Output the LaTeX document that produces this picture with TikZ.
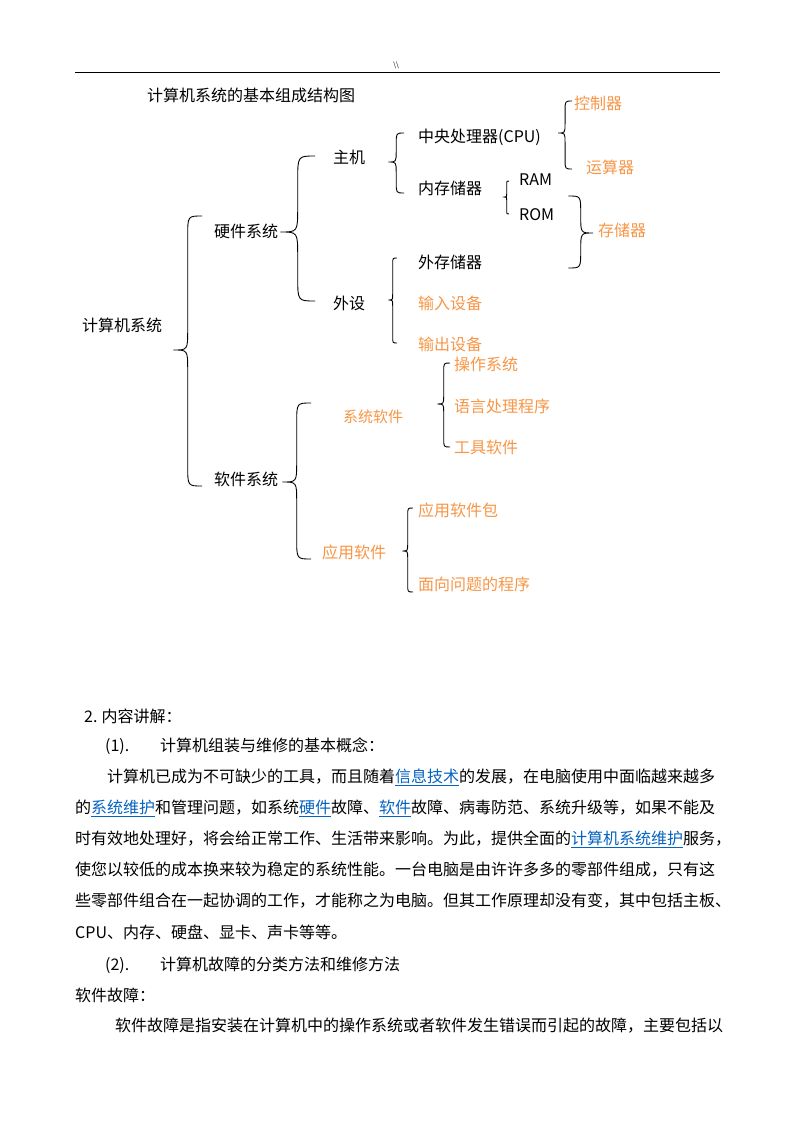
\documentclass[tikz,border=0pt]{standalone}
\usepackage{fontspec}
\setmainfont{Noto Sans CJK SC}
\usetikzlibrary{calc}
\definecolor{orng}{RGB}{247,150,70}
\definecolor{linkblue}{RGB}{5,99,193}
\tikzset{
  lbl/.style={anchor=west, inner sep=0pt, font=\fontsize{16}{16}\selectfont},
  lblo/.style={lbl, text=orng},
  txt/.style={anchor=west, inner sep=0pt, font=\fontsize{16}{16}\selectfont},
  brc/.style={line width=0.9pt},
}
\newcommand\lnk[1]{\textcolor{linkblue}{\underline{#1}}}
% curly brace: top end, tip, bottom end
\newcommand\curly[3]{%
  \draw[brc] let \p1=(#1), \p2=(#2), \p3=(#3),
    \n1={(\x1-\x2)/2}, \n2={abs(\x1-\x2)*0.7} in
    (\p1) .. controls (\x1-\n1,\y1) .. (\x1-\n1,\y1-\n2)
    -- (\x1-\n1,\y2+\n2) .. controls (\x1-\n1,\y2) .. (\p2)
    .. controls (\x1-\n1,\y2) .. (\x1-\n1,\y2-\n2)
    -- (\x1-\n1,\y3+\n2) .. controls (\x1-\n1,\y3) .. (\x1,\y3);}
\begin{document}
\begin{tikzpicture}[x=1pt,y=-1pt]
  \useasboundingbox[fill=white] (0,0) rectangle (794,1123);
  %% page header
  \draw[line width=0.9pt] (75,72) -- (720,72);
  \node[inner sep=0pt] (hdr) at (396,65) {\fontsize{7}{7}\selectfont\textbackslash\textbackslash};

  %% diagram
  \node[lbl] (title) at (147,95) {计算机系统的基本组成结构图};
  \node[lbl] (computer) at (82,325) {计算机系统};
  % level 1
  \node[lbl] (hw) at (214,231) {硬件系统};
  \node[lbl] (sw) at (214,479) {软件系统};
  % hardware
  \node[lbl] (host) at (333,157) {主机};
  \node[lbl] (periph) at (333,303) {外设};
  \node[lbl] (cpu) at (418,137) {中央处理器(CPU)};
  \node[lbl] (mem) at (418,188) {内存储器};
  \node[lbl] (ram) at (519,180) {RAM};
  \node[lbl] (rom) at (519,215) {ROM};
  \node[lbl] (extmem) at (418,262) {外存储器};
  \node[lblo] (input) at (418,303) {输入设备};
  \node[lblo] (output) at (418,344) {输出设备};
  \node[lblo] (ctrl) at (574,103) {控制器};
  \node[lblo] (alu) at (586,167) {运算器};
  \node[lblo] (storage) at (598,230) {存储器};
  % software
  \node[lblo, font=\fontsize{15}{15}\selectfont] (syssw) at (343,417) {系统软件};
  \node[lblo] (os) at (454,364) {操作系统};
  \node[lblo] (lang) at (454,406) {语言处理程序};
  \node[lblo] (tools) at (454,447) {工具软件};
  \node[lblo] (appsw) at (322,552) {应用软件};
  \node[lblo] (pkg) at (418,510) {应用软件包};
  \node[lblo] (prob) at (418,584) {面向问题的程序};

  % BRACES
  \curly{$(hw.west)+(-12,-15)$}{$(computer.east)+(11,25)$}{$(sw.west)+(-12,7)$}
  \curly{$(host.west)+(-18,-1)$}{$(hw.east)+(2,1)$}{$(periph.west)+(-18,-2)$}
  \curly{$(cpu.west)+(-14,-4)$}{$(host.east)+(23,5)$}{$(mem.west)+(-14,5)$}
  \curly{$(ctrl.west)+(-2,-2)$}{$(cpu.east)+(17,-4)$}{$(alu.west)+(-14,2)$}
  \curly{$(ram.west)+(-10,1)$}{$(mem.east)+(22,9)$}{$(rom.west)+(-10,-1)$}
  \curly{$(rom.east)+(14,-19)$}{$(storage.west)+(-5,3)$}{$(extmem.east)+(86,6)$}
  \curly{$(extmem.west)+(-21,-4)$}{$(periph.east)+(23,-3)$}{$(output.west)+(-21,-1)$}
  \curly{$(os.west)+(-4,-1)$}{$(syssw.east)+(34,-13)$}{$(tools.west)+(-4,0)$}
  \curly{$(syssw.west)+(-32,-14)$}{$(sw.east)+(4,3)$}{$(appsw.west)+(-11,7)$}
  \curly{$(pkg.west)+(-5,-2)$}{$(appsw.east)+(16,-1)$}{$(prob.west)+(-5,8)$}

  %% body text
  \node[txt] (sec) at (84,716) {2.\hspace{4pt}内容讲解：};
  \node[txt] (sub1) at (105,746) {\makebox[55pt][l]{(1).}计算机组装与维修的基本概念：};
  \node[txt] (p1) at (107,777) {计算机已成为不可缺少的工具，而且随着\lnk{信息技术}的发展，在电脑使用中面临越来越多};
  \node[txt] (p2) at (75,808) {的\lnk{系统维护}和管理问题，如系统\lnk{硬件}故障、\lnk{软件}故障、病毒防范、系统升级等，如果不能及};
  \node[txt] (p3) at (75,839) {时有效地处理好，将会给正常工作、生活带来影响。为此，提供全面的\lnk{计算机系统维护}服务，};
  \node[txt] (p4) at (75,870) {使您以较低的成本换来较为稳定的系统性能。一台电脑是由许许多多的零部件组成，只有这};
  \node[txt] (p5) at (75,901) {些零部件组合在一起协调的工作，才能称之为电脑。但其工作原理却没有变，其中包括主板、};
  \node[txt] (p6) at (75,932) {CPU、内存、硬盘、显卡、声卡等等。};
  \node[txt] (sub2) at (105,965) {\makebox[55pt][l]{(2).}计算机故障的分类方法和维修方法};
  \node[txt] (swf) at (75,995) {软件故障：};
  \node[txt] (p7) at (115,1026) {软件故障是指安装在计算机中的操作系统或者软件发生错误而引起的故障，主要包括以};
\end{tikzpicture}
\end{document}
